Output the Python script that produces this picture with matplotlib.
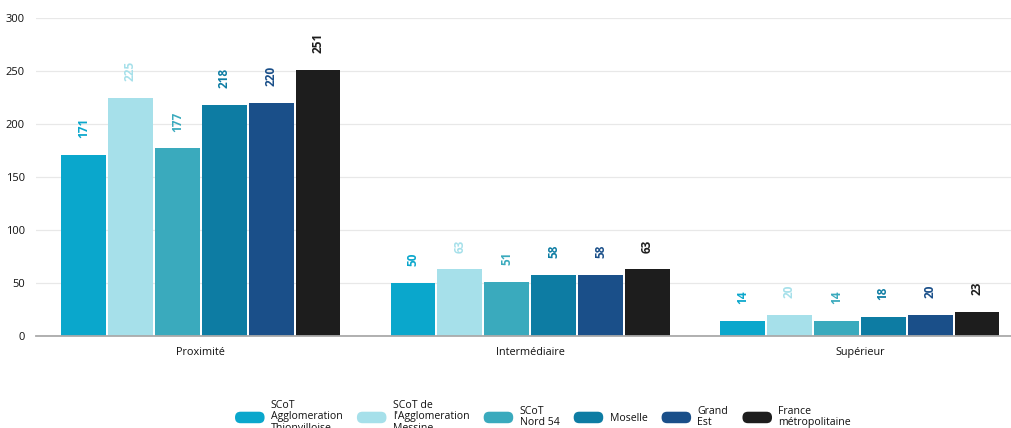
import matplotlib
matplotlib.use("Agg")
import matplotlib.pyplot as plt
import numpy as np
from matplotlib.patches import FancyBboxPatch, Patch
from matplotlib.legend_handler import HandlerPatch

categories = ["Proximité", "Intermédiaire", "Supérieur"]
series_names = [
    "SCoT\nAgglomeration\nThionvilloise",
    "SCoT de\nl'Agglomeration\nMessine",
    "SCoT\nNord 54",
    "Moselle",
    "Grand\nEst",
    "France\nmétropolitaine",
]
scot_thionvilloise = [171, 50, 14]
scot_messine = [225, 63, 20]
scot_nord54 = [177, 51, 14]
moselle = [218, 58, 18]
grand_est = [220, 58, 20]
france = [251, 63, 23]
values = [scot_thionvilloise, scot_messine, scot_nord54, moselle, grand_est, france]
colors = ["#0aa7cc", "#a6e0ea", "#3aaabd", "#0d7ca3", "#1a4f89", "#1d1d1d"]
yticks = [0, 50, 100, 150, 200, 250, 300]

plt.rcParams["font.family"] = ["Open Sans", "DejaVu Sans"]

fig = plt.figure(figsize=(10.12, 4.28), dpi=100)
ax = fig.add_axes([36 / 1012, 92 / 428, 988.5 / 1012, 318 / 428])

x = np.arange(len(categories)) + 0.5
step = 0.1424
bw = 0.136
for i, (vals, col) in enumerate(zip(values, colors)):
    pos = x + (i - 2.5) * step
    bars = ax.bar(pos, vals, width=bw, color=col, zorder=3)
    for b, v in zip(bars, vals):
        ax.annotate(str(v), (b.get_x() + b.get_width() / 2, v),
                    xytext=(0, 12), textcoords="offset points",
                    rotation=90, ha="center", va="bottom",
                    color=col, fontsize=8.5, fontweight="bold")

ax.set_xlim(0, 3)
ax.set_ylim(0, 300)
ax.set_yticks(yticks)
ax.set_yticklabels([str(t) for t in yticks], fontsize=8, color="#111111")
ax.set_xticks(x)
ax.set_xticklabels(categories, fontsize=7.8, color="#111111")
ax.tick_params(axis="both", length=0)
ax.tick_params(axis="y", pad=8)
ax.tick_params(axis="x", pad=8)
ax.grid(axis="y", color="#e8e8e8", linewidth=0.9, zorder=0)
for s in ["top", "right", "left"]:
    ax.spines[s].set_visible(False)
ax.spines["bottom"].set_color("#aaaaaa")
ax.spines["bottom"].set_linewidth(1.3)
ax.spines["bottom"].set_zorder(4)


class RoundHandler(HandlerPatch):
    def create_artists(self, legend, orig_handle, xdescent, ydescent, width,
                       height, fontsize, trans):
        p = FancyBboxPatch((-xdescent + 2, -ydescent + 2), width - 4, height - 4,
                           boxstyle="round,pad=2,rounding_size=4",
                           facecolor=orig_handle.get_facecolor(),
                           edgecolor="none", transform=trans)
        return [p]


handles = [Patch(facecolor=c) for c in colors]
hmap = {h: RoundHandler() for h in handles}
leg = fig.legend(handles, series_names, loc="center", bbox_to_anchor=(543 / 1012, 1 - 417 / 428),
                 ncol=6, frameon=False, fontsize=7.6, handler_map=hmap,
                 handlelength=2.8, handleheight=1.3, handletextpad=0.6,
                 columnspacing=1.35, borderpad=0)
for t in leg.get_texts():
    t.set_color("#111111")
    t.set_linespacing(1.05)

fig.savefig("out.png", dpi=100)
